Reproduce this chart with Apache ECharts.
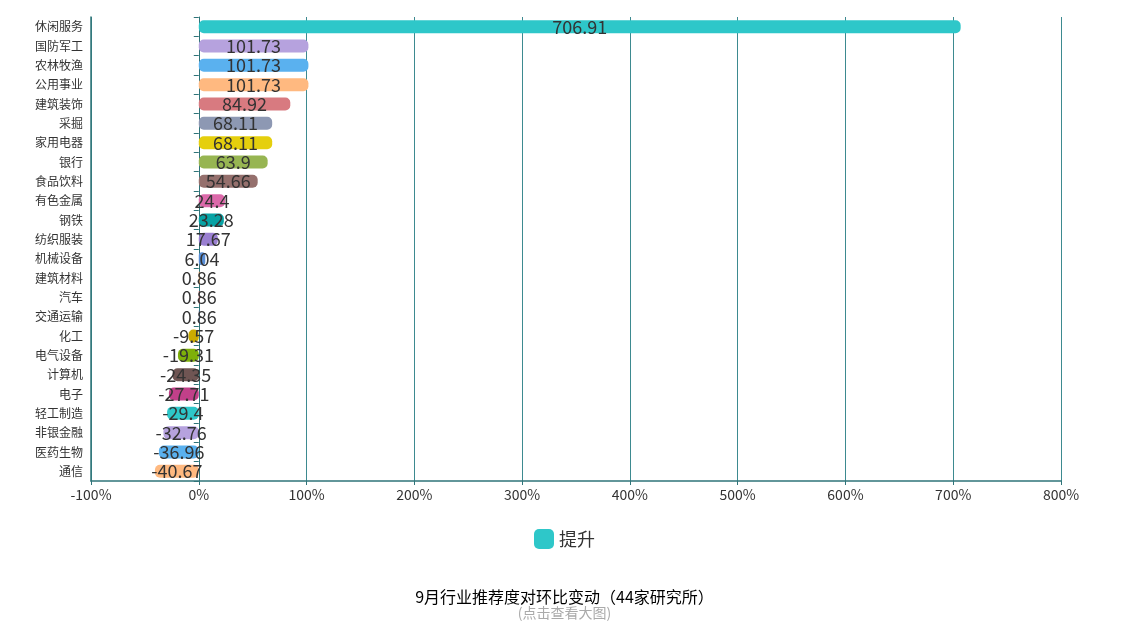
<!DOCTYPE html>
<html><head><meta charset="utf-8">
<script src="https://cdn.jsdelivr.net/npm/echarts@6/dist/echarts.min.js"></script>
<style>html,body{margin:0;padding:0;background:#fff}#c{width:1129px;height:624px}</style>
</head><body><div id="c"></div>
<script>
const categories = ['休闲服务','国防军工','农林牧渔','公用事业','建筑装饰','采掘','家用电器','银行','食品饮料','有色金属','钢铁','纺织服装','机械设备','建筑材料','汽车','交通运输','化工','电气设备','计算机','电子','轻工制造','非银金融','医药生物','通信'];
const values = [706.91,101.73,101.73,101.73,84.92,68.11,68.11,63.9,54.66,24.4,23.28,17.67,6.04,0.86,0.86,0.86,-9.57,-19.31,-24.35,-27.71,-29.4,-32.76,-36.96,-40.67];
const xTicks = {min:-100, max:800, interval:100};
const palette = ['#2ec7c9','#b6a2de','#5ab1ef','#ffb980','#d87a80','#8d98b3','#e5cf0d','#97b552','#95706d','#dc69aa','#07a2a4','#9a7fd1','#588dd5','#f5994e','#c05050','#59678c','#c9ab00','#7eb00a','#6f5553','#c14089'];
const font = '"Microsoft YaHei","Noto Sans CJK SC",sans-serif';
const axisColor = '#2f7479';
const chart = echarts.init(document.getElementById('c'));
chart.setOption({
  animation:false,
  color: palette,
  textStyle:{fontFamily:font},
  title:{text:'9月行业推荐度对环比变动（44家研究所）', subtext:'(点击查看大图)', left:'center', top:584, itemGap:1,
    textStyle:{fontSize:16,fontWeight:'normal',color:'#000',fontFamily:font},
    subtextStyle:{fontSize:14,color:'#aaa',fontFamily:font}},
  legend:{data:['提升'], left:'center', top:524, itemWidth:20, itemHeight:20, itemGap:5,
    icon:'roundRect', textStyle:{fontSize:18,color:'#333',fontFamily:font},
    itemStyle:{color:'#2ec7c9'}},
  grid:{left:91, right:68, top:17, bottom:143},
  xAxis:{type:'value', min:xTicks.min, max:xTicks.max, interval:xTicks.interval,
    axisLabel:{formatter:'{value}%', fontSize:14, color:'#333', margin:7},
    axisLine:{show:true, lineStyle:{color:axisColor, width:1.5}},
    axisTick:{show:true, length:4, lineStyle:{color:axisColor}},
    splitLine:{show:true, lineStyle:{color:'#3d8a90', width:1}}},
  yAxis:[
    {type:'category', data:categories, inverse:true, position:'left',
     axisLine:{show:true, onZero:false, lineStyle:{color:axisColor, width:1.5}},
     axisTick:{show:false},
     axisLabel:{fontSize:12, color:'#333', margin:8}},
    {type:'category', data:categories, inverse:true, position:'left',
     axisLine:{show:true, onZero:true, lineStyle:{color:axisColor, width:1}},
     axisTick:{show:true, length:5, lineStyle:{color:axisColor}},
     axisLabel:{show:false}}
  ],
  series:[{name:'提升', type:'bar', yAxisIndex:0, data:values, colorBy:'data', barWidth:13,
    itemStyle:{borderRadius:5},
    label:{show:true, position:'inside', fontSize:18, color:'#333', fontFamily:font}}]
});
</script></body></html>
